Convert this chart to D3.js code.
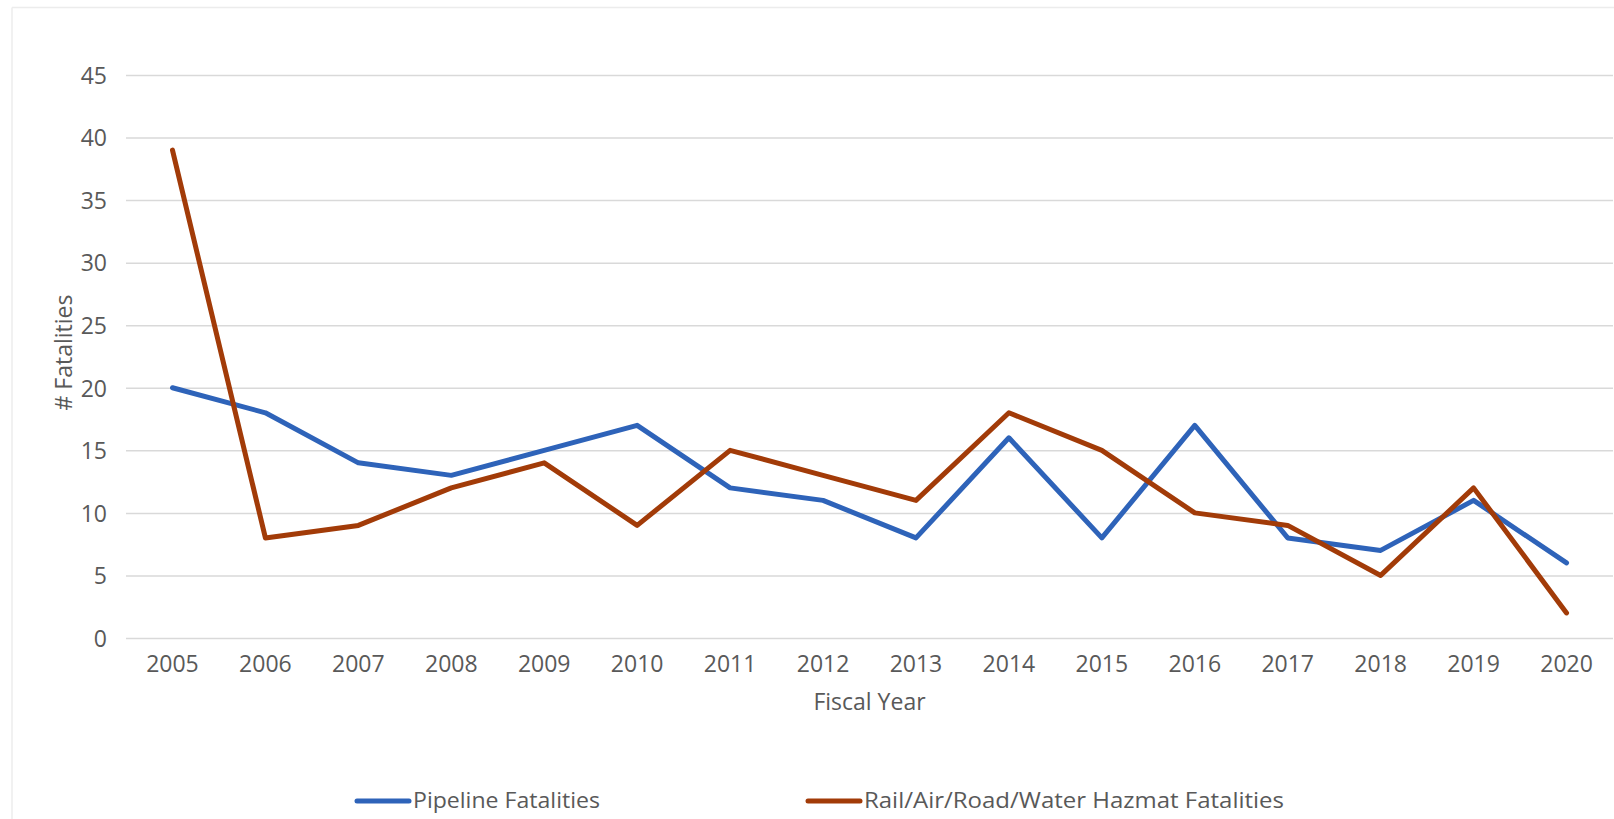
<!DOCTYPE html>
<html>
<head>
<meta charset="utf-8">
<script src="https://cdn.jsdelivr.net/npm/d3@7"></script>
<style>
  body { margin: 0; background: #fff; overflow: hidden; }
  svg { display: block; }
  text { font-family: "Open Sans", sans-serif; fill: #595959; }
</style>
</head>
<body>
<svg id="graph" width="1614" height="819"></svg>
<script>
// data
var years = ["2005","2006","2007","2008","2009","2010","2011","2012","2013","2014","2015","2016","2017","2018","2019","2020"];
var pipeline = [20, 18, 14, 13, 15, 17, 12, 11, 8, 16, 8, 17, 8, 7, 11, 6];
var hazmat = [39, 8, 9, 12, 14, 9, 15, 13, 11, 18, 15, 10, 9, 5, 12, 2];
var yTicks = [0, 5, 10, 15, 20, 25, 30, 35, 40, 45];
var seriesNames = ["Pipeline Fatalities", "Rail/Air/Road/Water Hazmat Fatalities"];
var colors = ["#2e63b9", "#a23b08"];

var width = 1614, height = 819;
const margin = { top: 75, bottom: 181, left: 126, right: 1 };
const innerWidth = width - margin.left - margin.right;
const innerHeight = height - margin.top - margin.bottom;

const svg = d3.select('#graph');

// light frame of the chart area
svg.append("line").attr("x1", 12).attr("x2", width).attr("y1", 7.5).attr("y2", 7.5)
    .attr("stroke", "#ececec").attr("stroke-width", 1.5);
svg.append("line").attr("x1", 12).attr("x2", 12).attr("y1", 7.5).attr("y2", height)
    .attr("stroke", "#ececec").attr("stroke-width", 1.5);

const g = svg.append('g').attr('transform', `translate(${margin.left}, ${margin.top})`);

const x = d3.scaleBand().domain(years).range([0, innerWidth]);
const y = d3.scaleLinear().domain([0, 45]).range([innerHeight, 0]);

// gridlines (no labels here)
g.append("g")
    .call(d3.axisLeft(y).tickValues(yTicks).tickSize(-innerWidth).tickFormat(""))
    .call(a => a.select(".domain").remove())
    .call(a => a.selectAll("text").remove())
    .call(a => a.selectAll("line").attr("stroke", "#d9d9d9").attr("stroke-width", 1.5));

// y axis labels
g.append("g")
    .attr("transform", "translate(-19,0)")
    .call(d3.axisLeft(y).tickValues(yTicks).tickSize(0).tickPadding(0))
    .attr("font-size", 23).attr("font-family", "Open Sans")
    .call(a => a.select(".domain").remove())
    .call(a => a.selectAll("text").attr("fill", "#595959").attr("dy", "0.36em"));

// x axis labels
g.append("g")
    .attr("transform", `translate(0,${innerHeight})`)
    .call(d3.axisBottom(x).tickSize(0).tickPadding(18))
    .attr("font-size", 23).attr("font-family", "Open Sans")
    .call(a => a.select(".domain").remove())
    .call(a => a.selectAll("text").attr("fill", "#595959"));

// lines
const line = d3.line()
    .x((d, i) => x(years[i]) + x.bandwidth() / 2)
    .y(d => y(d));

[pipeline, hazmat].forEach(function (values, k) {
    g.append("path")
        .datum(values)
        .attr("fill", "none")
        .attr("stroke", colors[k])
        .attr("stroke-width", 5)
        .attr("stroke-linejoin", "round")
        .attr("stroke-linecap", "round")
        .attr("d", line);
});

// axis titles
g.append('text')
    .attr('transform', 'rotate(-90)')
    .attr('y', -54)
    .attr('x', -innerHeight / 2 + 4)
    .attr('text-anchor', 'middle')
    .style('font-size', '23px')
    .text('# Fatalities');
g.append('text')
    .attr('text-anchor', 'middle')
    .attr('x', innerWidth / 2)
    .attr('y', innerHeight + 72)
    .style('font-size', '23px')
    .text('Fiscal Year');

// legend
var legendX = [357, 808];
var legendLen = [187, 420];
seriesNames.forEach(function (name, k) {
    svg.append("line")
        .attr("x1", legendX[k]).attr("x2", legendX[k] + 52)
        .attr("y1", 801).attr("y2", 801)
        .attr("stroke", colors[k]).attr("stroke-width", 5)
        .attr("stroke-linecap", "round");
    svg.append("text")
        .attr("x", legendX[k] + 56)
        .attr("y", 808)
        .attr("textLength", legendLen[k])
        .attr("lengthAdjust", "spacingAndGlyphs")
        .style("font-size", "22px")
        .text(name);
});
</script>
</body>
</html>
